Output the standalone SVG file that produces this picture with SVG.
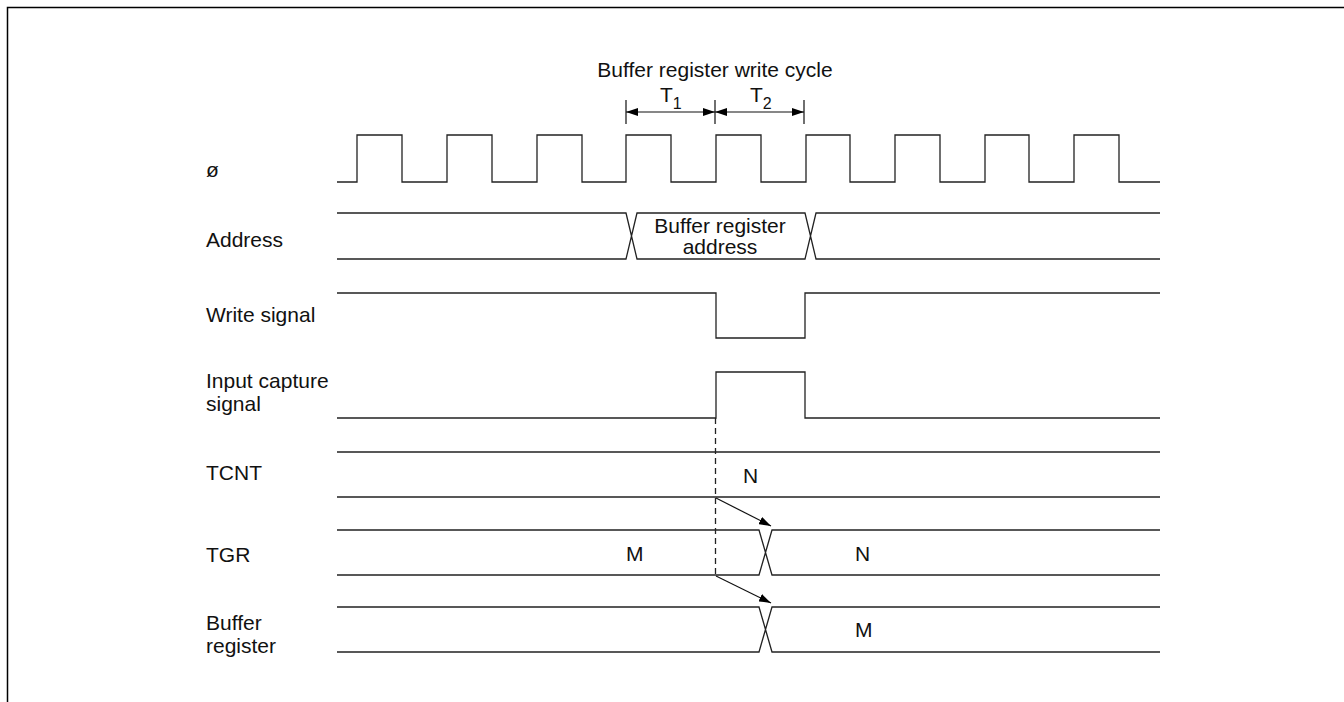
<svg xmlns="http://www.w3.org/2000/svg" width="1344" height="702" viewBox="0 0 1344 702">
<defs>
<marker id="ah" viewBox="0 0 12 8" refX="12" refY="4" markerWidth="12" markerHeight="8" markerUnits="userSpaceOnUse" orient="auto">
<path d="M0,0 L12,4 L0,8 Z" fill="#000"/>
</marker>
<marker id="ahs" viewBox="0 0 12 8" refX="12" refY="4" markerWidth="12" markerHeight="8" markerUnits="userSpaceOnUse" orient="auto-start-reverse">
<path d="M0,0 L12,4 L0,8 Z" fill="#000"/>
</marker>
</defs>
<style>
.s{fill:none;stroke:#222;stroke-width:1.3;stroke-linejoin:miter}
.b{fill:none;stroke:#000;stroke-width:1.5}
.t{font-family:"Liberation Sans",Arial,sans-serif;font-size:21px;fill:#111}
.sub{font-family:"Liberation Sans",Arial,sans-serif;font-size:16px;fill:#111}
.c{text-anchor:middle}
.d{fill:none;stroke:#222;stroke-width:1.3;stroke-dasharray:6 4}
.a{fill:none;stroke:#111;stroke-width:1.2}
</style>
<g id="frame">
<path class="b" d="M7.5,702 V7.5 H1344"/>
</g>
<g id="cycle">
<text class="t c" x="715" y="77">Buffer register write cycle</text>
<path class="a" d="M626,100 V124 M715,100 V124 M804,100 V124"/>
<line class="a" x1="626" y1="112" x2="715" y2="112" marker-start="url(#ahs)" marker-end="url(#ah)"/>
<line class="a" x1="715" y1="112" x2="804" y2="112" marker-start="url(#ahs)" marker-end="url(#ah)"/>
<text class="t" x="660" y="102">T<tspan class="sub" dy="7">1</tspan></text>
<text class="t" x="750" y="102">T<tspan class="sub" dy="7">2</tspan></text>
</g>
<g id="clock">
<text class="t" x="206" y="177">ø</text>
<path class="s" d="M337,182 H357 V135 H402 V182 H447 V135 H492 V182 H537 V135 H582 V182 H626 V135 H671 V182 H716 V135 H761 V182 H806 V135 H850 V182 H895 V135 H940 V182 H985 V135 H1029 V182 H1074 V135 H1119 V182 H1160"/>
</g>
<g id="address">
<text class="t" x="206" y="247">Address</text>
<path class="s" d="M337,213 H626 L637,259 H805 L816,213 H1160 M337,259 H626 L637,213 H805 L816,259 H1160"/>
<text class="t c" x="720" y="233">Buffer register</text>
<text class="t c" x="720" y="254">address</text>
</g>
<g id="write">
<text class="t" x="206" y="322">Write signal</text>
<path class="s" d="M337,293 H716 V338 H805 V293 H1160"/>
</g>
<g id="capture">
<text class="t" x="206" y="388">Input capture</text>
<text class="t" x="206" y="411">signal</text>
<path class="s" d="M337,418 H716 V372 H805 V418 H1160"/>
</g>
<g id="tcnt">
<text class="t" x="206" y="480">TCNT</text>
<path class="s" d="M337,452 H1160 M337,497 H1160"/>
<text class="t" x="743" y="483">N</text>
</g>
<g id="tgr">
<text class="t" x="206" y="562">TGR</text>
<path class="s" d="M337,530 H759 L772,575 H1160 M337,575 H759 L772,530 H1160"/>
<text class="t" x="626" y="561">M</text>
<text class="t" x="855" y="561">N</text>
</g>
<g id="buffer">
<text class="t" x="206" y="630">Buffer</text>
<text class="t" x="206" y="653">register</text>
<path class="s" d="M337,607 H759 L772,652 H1160 M337,652 H759 L772,607 H1160"/>
<text class="t" x="855" y="637">M</text>
</g>
<g id="connectors">
<line class="d" x1="715.5" y1="418" x2="715.5" y2="576"/>
<line class="a" x1="716" y1="498" x2="771" y2="526" marker-end="url(#ah)"/>
<line class="a" x1="716" y1="576" x2="771" y2="603" marker-end="url(#ah)"/>
</g>
</svg>
